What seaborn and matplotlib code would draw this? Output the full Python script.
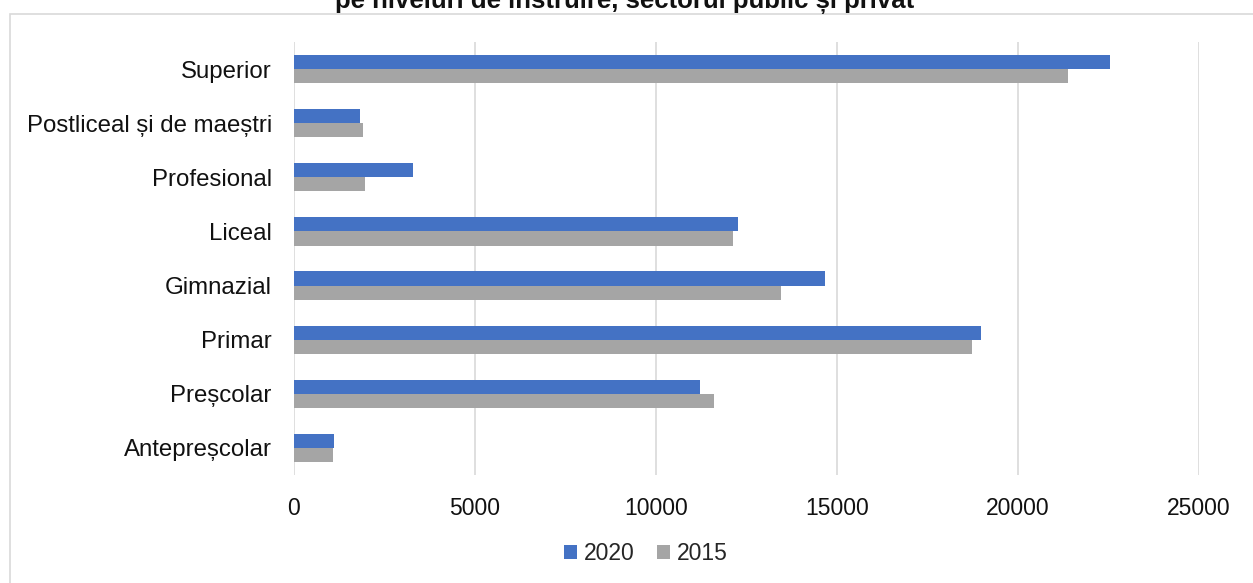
import matplotlib
matplotlib.use("Agg")
import matplotlib.pyplot as plt
import seaborn as sns
import pandas as pd
from matplotlib.patches import Rectangle

# data
levels = ["Superior", "Postliceal și de maeștri", "Profesional", "Liceal",
          "Gimnazial", "Primar", "Preșcolar", "Antepreșcolar"]
values_2020 = [22550, 1835, 3290, 12260, 14670, 18990, 11220, 1110]
values_2015 = [21380, 1915, 1960, 12120, 13450, 18730, 11610, 1075]
years = ["2020", "2015"]
x_ticks = [0, 5000, 10000, 15000, 20000, 25000]
title = "pe niveluri de instruire, sectorul public și privat"

df = pd.DataFrame({
    "nivel": levels * 2,
    "an": [years[0]] * len(levels) + [years[1]] * len(levels),
    "valoare": values_2020 + values_2015,
})

sns.set_theme(style="white")
plt.rcParams["font.family"] = ["Liberation Sans", "DejaVu Sans"]

W, H = 1253, 583
fig = plt.figure(figsize=(W / 100, H / 100), dpi=100)
ax = fig.add_axes([294 / W, 1 - 475 / H, (1199 - 294) / W, (475 - 42) / H])

sns.barplot(data=df, x="valoare", y="nivel", hue="an", hue_order=years,
            order=levels, orient="h", width=0.52,
            palette=["#4472C4", "#A5A5A5"], saturation=1,
            edgecolor="none", ax=ax)

ax.set_xlim(0, 25000)
ax.set_ylim(len(levels) - 0.5, -0.5)
ax.set_xticks(x_ticks)
ax.set_xticklabels([str(t) for t in x_ticks])
ax.grid(axis="x", color="#D9D9D9", linewidth=1.2)
ax.set_axisbelow(True)
for s in ax.spines.values():
    s.set_visible(False)
ax.tick_params(axis="y", length=0, pad=16, labelsize=17.3, labelcolor="#111111")
ax.tick_params(axis="x", length=0, pad=16, labelsize=16.5, labelcolor="#111111")
ax.set_xlabel("")
ax.set_ylabel("")

leg = ax.legend(loc="center", bbox_to_anchor=(646 / W, 1 - 554 / H),
                bbox_transform=fig.transFigure, ncol=2, frameon=False,
                fontsize=16.5, handlelength=0.55, handleheight=0.55,
                handletextpad=0.3, columnspacing=1.0)

# outer chart frame
fig.patches.append(Rectangle((10 / W, -0.01), (W - 8) / W, 1 - 14 / H + 0.01,
                             transform=fig.transFigure, fill=False,
                             edgecolor="#D9D9D9", linewidth=1.2))

# title, partly cut off at the top as in the reference
fig.text(625 / W, 1 - 8 / H, title, ha="center", va="baseline",
         fontsize=18.5, fontweight="bold", color="#111111")

fig.savefig("out.png", dpi=100)
